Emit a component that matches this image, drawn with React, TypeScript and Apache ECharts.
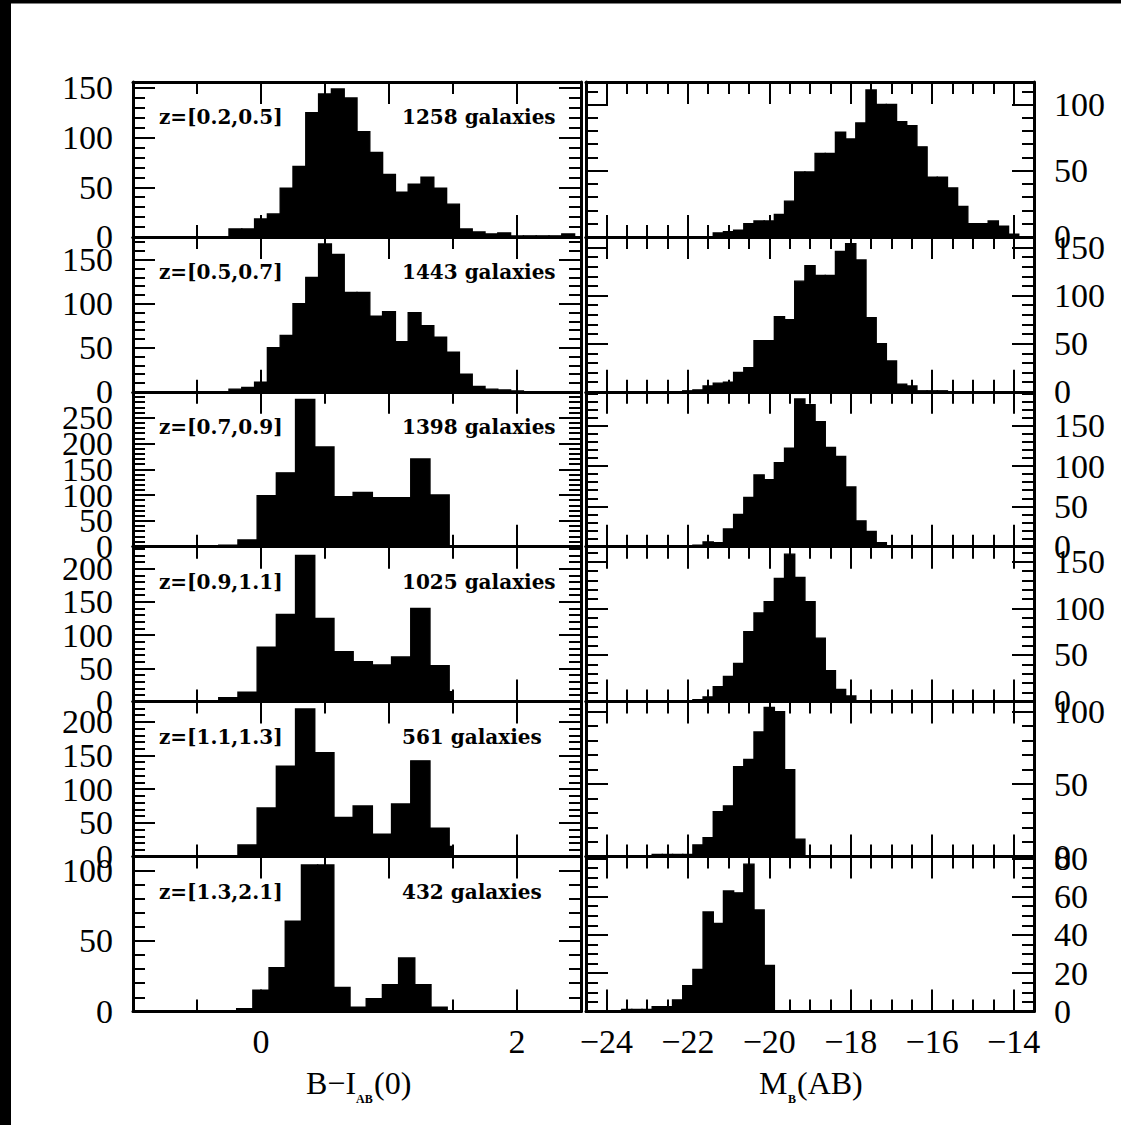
import React, { useEffect, useRef } from "react";
import * as echarts from "echarts";

// ---------------- data ----------------
const REDSHIFT_LABELS = ["z=[0.2,0.5]", "z=[0.5,0.7]", "z=[0.7,0.9]", "z=[0.9,1.1]", "z=[1.1,1.3]", "z=[1.3,2.1]"];
const GALAXY_LABELS = ["1258 galaxies", "1443 galaxies", "1398 galaxies", "1025 galaxies", "561 galaxies", "432 galaxies"];

// B-I_AB(0) colour histograms (left column)
const COLOR_START = [-0.25, -0.25, -0.33, -0.33, -0.33, -0.19];
const COLOR_BIN = [0.1, 0.1, 0.15, 0.15, 0.15, 0.1265];
const COLOR_UPPER = [2.5, 2.5, 2.5, 1.5, 1.5, 2.5];
const COLOR_COUNTS_1 = [8, 8, 18, 23, 49, 71, 125, 144, 149, 140, 106, 85, 63, 45, 53, 60, 49, 33, 8, 5, 3, 4, 1, 1, 1, 1, 3];
const COLOR_COUNTS_2 = [3, 5, 11, 50, 64, 100, 130, 168, 156, 113, 113, 86, 91, 57, 90, 75, 62, 45, 20, 6, 3, 2, 1];
const COLOR_COUNTS_3 = [3, 13, 99, 143, 285, 193, 97, 105, 95, 95, 170, 100];
const COLOR_COUNTS_4 = [6, 14, 82, 131, 220, 125, 75, 60, 55, 67, 140, 54, 15];
const COLOR_COUNTS_5 = [0, 17, 72, 134, 219, 154, 58, 75, 33, 78, 142, 42, 15];
const COLOR_COUNTS_6 = [2, 15, 31, 64, 104, 104, 17, 3, 9, 19, 38, 19, 3];
const COLOR_COUNTS = [COLOR_COUNTS_1, COLOR_COUNTS_2, COLOR_COUNTS_3, COLOR_COUNTS_4, COLOR_COUNTS_5, COLOR_COUNTS_6];
const COLOR_YMAX = [156, 176, 300, 233, 230, 110];
const COLOR_XMIN = -1;
const COLOR_XMAX = 2.5;
const COLOR_XLABELS = [0, 2];

// M_B(AB) histograms (right column)
const MAG_BIN = 0.25;
const MAG_START = [-21.375, -22.125, -22.125, -21.875, -22.875, -23.625];
const MAG_COUNTS_1 = [3, 4, 5, 10, 12, 12, 17, 27, 49, 49, 63, 63, 79, 74, 86, 111, 100, 100, 87, 84, 68, 45, 45, 37, 23, 10, 10, 12, 8, 2];
const MAG_COUNTS_2 = [1, 2, 6, 9, 10, 20, 25, 53, 53, 78, 75, 115, 131, 121, 121, 146, 154, 137, 77, 50, 32, 8, 6, 1, 1, 1];
const MAG_COUNTS_3 = [1, 2, 6, 5, 22, 40, 61, 89, 83, 104, 122, 183, 176, 155, 123, 112, 74, 32, 19, 5, 1];
const MAG_COUNTS_4 = [2, 5, 16, 27, 41, 75, 95, 107, 132, 158, 133, 107, 68, 33, 13, 6];
const MAG_COUNTS_5 = [1.5, 1.5, 1.5, 1.5, 8, 13, 31, 35, 62, 67, 86, 103, 100, 60, 12];
const MAG_COUNTS_6 = [1, 1, 1, 2.5, 2.5, 6, 13.5, 22, 52, 46, 63, 62, 77, 53, 24];
const MAG_COUNTS = [MAG_COUNTS_1, MAG_COUNTS_2, MAG_COUNTS_3, MAG_COUNTS_4, MAG_COUNTS_5, MAG_COUNTS_6];
const MAG_YMAX = [117, 161, 192, 166, 107, 81];
const MAG_YSTEP = [50, 50, 50, 50, 50, 20];
const MAG_YMINOR = [5, 5, 5, 5, 5, 4];
const MAG_XMIN = -24.5;
const MAG_XMAX = -13.5;
const MAG_XMAJOR = [-24, -22, -20, -18, -16, -14];

// ---------------- layout ----------------
const W = 1121;
const H = 1125;
const PANEL_TOP = 82;
const ROW_H = 154.9;
const LEFT_X = 133;
const RIGHT_X = 586;
const PANEL_W = 448;
const AXIS_W = 3;
const TICK_W = 2;
const MAJOR_LEN = 22;
const MINOR_LEN = 12;
const TICK_FONT = { fontFamily: "Liberation Serif", fontSize: 34, color: "#000" };
const Y_LABEL = { ...TICK_FONT, margin: 20, showMaxLabel: false, hideOverlap: false };

const fmtMinus = (v: number) => (v < 0 ? "\u2212" + Math.abs(v) : String(v));

const renderBar = (_p: any, api: any) => {
  const x0 = api.value(0);
  const x1 = api.value(1);
  const v = api.value(2);
  const a = api.coord([x0, v]);
  const b = api.coord([x1, 0]);
  return {
    type: "rect",
    shape: { x: a[0], y: a[1], width: b[0] - a[0], height: b[1] - a[1] },
    style: { fill: "#000", stroke: "#000", lineWidth: 1.4 },
  };
};

function buildOption() {
  const grid: any[] = [];
  const xAxis: any[] = [];
  const yAxis: any[] = [];
  const series: any[] = [];

  const base = (gridIndex: number) => ({
    gridIndex,
    type: "value",
    silent: true,
    splitLine: { show: false },
    minorSplitLine: { show: false },
    axisLine: { show: true, onZero: false, lineStyle: { color: "#000", width: AXIS_W } },
    axisTick: { show: true, inside: true, length: MAJOR_LEN, lineStyle: { color: "#000", width: TICK_W } },
    axisLabel: { show: false },
    axisPointer: { show: false },
  });
  const minor = (splitNumber: number) => ({
    show: true,
    splitNumber,
    length: MINOR_LEN,
    lineStyle: { color: "#000", width: TICK_W },
  });

  // y axes for one panel: left + right tick axes, plus a label-only axis carrying the "0"
  const addYAxes = (g: number, max: number, step: number, split: number, labelPos: string) => {
    const idx = yAxis.length;
    for (const pos of ["left", "right"]) {
      yAxis.push({
        ...base(g),
        position: pos,
        min: 0,
        max,
        interval: step,
        minorTick: minor(split),
        axisLabel:
          pos === labelPos
            ? { show: true, ...Y_LABEL, formatter: (v: number) => (v === 0 ? "" : String(v)) }
            : { show: false },
      });
    }
    yAxis.push({
      ...base(g),
      position: labelPos,
      min: 0,
      max,
      interval: step,
      axisLine: { show: false, onZero: false },
      axisTick: { show: false },
      minorTick: { show: false },
      axisLabel: { show: true, ...Y_LABEL, formatter: (v: number) => (v === 0 ? "0" : "") },
    });
    return idx;
  };

  for (let r = 0; r < 6; r++) {
    const top = PANEL_TOP + r * ROW_H;
    const last = r === 5;

    // ---- left panel: colour ----
    const gl = grid.length;
    grid.push({ left: LEFT_X, top, width: PANEL_W, height: ROW_H, outerBoundsMode: "none", containLabel: false });
    const xl = xAxis.length;
    for (const pos of ["bottom", "top"]) {
      xAxis.push({
        ...base(gl),
        position: pos,
        min: COLOR_XMIN,
        max: COLOR_XMAX,
        interval: 1,
        minorTick: minor(2),
        axisLabel:
          pos === "bottom" && last
            ? { show: true, margin: 13, ...TICK_FONT, formatter: (v: number) => (COLOR_XLABELS.indexOf(v) >= 0 ? String(v) : "") }
            : { show: false },
      });
    }
    const yl = addYAxes(gl, COLOR_YMAX[r], 50, 5, "left");
    const cData = COLOR_COUNTS[r].map((c, i) => {
      const x0 = COLOR_START[r] + i * COLOR_BIN[r];
      const x1 = Math.min(x0 + COLOR_BIN[r], COLOR_UPPER[r]);
      return [x0, x1, c];
    });
    series.push({
      type: "custom",
      xAxisIndex: xl,
      yAxisIndex: yl,
      silent: true,
      encode: { x: [0, 1], y: 2 },
      data: cData,
      renderItem: renderBar,
    });

    // ---- right panel: absolute magnitude ----
    const gr = grid.length;
    grid.push({ left: RIGHT_X, top, width: PANEL_W, height: ROW_H, outerBoundsMode: "none", containLabel: false });
    const xr = xAxis.length;
    for (const pos of ["bottom", "top"]) {
      xAxis.push({
        ...base(gr),
        position: pos,
        min: MAG_XMIN,
        max: MAG_XMAX,
        interval: 0.5,
        axisTick: { show: true, inside: true, length: MINOR_LEN, lineStyle: { color: "#000", width: TICK_W } },
      });
      xAxis.push({
        ...base(gr),
        position: pos,
        min: MAG_XMIN,
        max: MAG_XMAX,
        axisLine: { show: false, onZero: false },
        axisTick: { show: true, inside: true, length: MAJOR_LEN, customValues: MAG_XMAJOR, lineStyle: { color: "#000", width: TICK_W } },
        axisLabel:
          pos === "bottom" && last
            ? { show: true, margin: 13, ...TICK_FONT, customValues: MAG_XMAJOR, formatter: fmtMinus }
            : { show: false },
      });
    }
    const yr = addYAxes(gr, MAG_YMAX[r], MAG_YSTEP[r], MAG_YMINOR[r], "right");
    const mData = MAG_COUNTS[r].map((c, i) => {
      const x0 = MAG_START[r] + i * MAG_BIN;
      return [x0, x0 + MAG_BIN, c];
    });
    series.push({
      type: "custom",
      xAxisIndex: xr,
      yAxisIndex: yr,
      silent: true,
      encode: { x: [0, 1], y: 2 },
      data: mData,
      renderItem: renderBar,
    });
  }

  const annot = (text: string, x: number, y: number, extra: any = {}) => ({
    type: "text",
    x,
    y,
    z: 100,
    silent: true,
    style: {
      text,
      fill: "#000",
      fontFamily: "DejaVu Serif",
      fontWeight: "bold",
      fontSize: 20,
      align: "left",
      textAlign: "left",
      verticalAlign: "middle",
      textVerticalAlign: "middle",
      ...extra,
    },
  });
  const titleMain = { fontFamily: "Liberation Serif", fontWeight: "normal", fontSize: 32 };
  const titleSub = { fontFamily: "Liberation Serif", fontWeight: "bold", fontSize: 12 };

  const graphic: any[] = [
    { type: "rect", z: 100, silent: true, shape: { x: 0, y: 0, width: 11, height: H }, style: { fill: "#000" } },
    { type: "rect", z: 100, silent: true, shape: { x: 0, y: 0, width: W, height: 3.5 }, style: { fill: "#000" } },
    ...REDSHIFT_LABELS.map((t, r) => annot(t, LEFT_X + 26, PANEL_TOP + r * ROW_H + 35)),
    ...GALAXY_LABELS.map((t, r) => annot(t, LEFT_X + 269, PANEL_TOP + r * ROW_H + 35)),
    annot("B\u2212I", 306, 1083, titleMain),
    annot("AB", 356, 1099, titleSub),
    annot("(0)", 374, 1083, titleMain),
    annot("M", 759, 1083, titleMain),
    annot("B", 788, 1099, titleSub),
    annot("(AB)", 797, 1083, titleMain),
  ];

  return {
    animation: false,
    backgroundColor: "#fff",
    textStyle: { fontFamily: "Liberation Serif" },
    grid,
    xAxis,
    yAxis,
    series,
    graphic,
  };
}

export default function App() {
  const ref = useRef<HTMLDivElement>(null);
  useEffect(() => {
    if (!ref.current) return;
    const chart = echarts.init(ref.current, null, { renderer: "svg", width: W, height: H });
    chart.setOption(buildOption() as any);
    return () => chart.dispose();
  }, []);
  return (
    <div
      ref={ref}
      style={{ position: "absolute", left: 0, top: 0, width: W, height: H, background: "#fff" }}
    />
  );
}
